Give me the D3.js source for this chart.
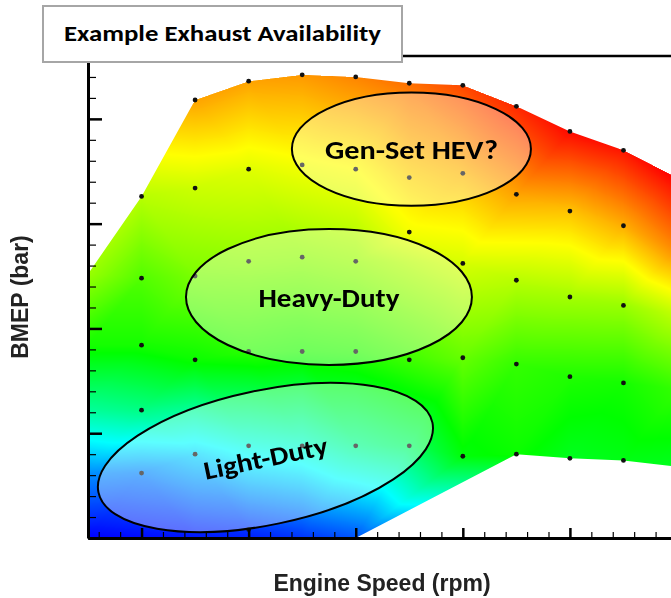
<!DOCTYPE html>
<html>
<head>
<meta charset="utf-8">
<script src="https://cdn.jsdelivr.net/npm/d3@7"></script>
<style>
  body { margin: 0; background: #fff; }
  #chart { position: relative; width: 671px; height: 598px; }
  #chart canvas, #chart svg { position: absolute; left: 0; top: 0; }
</style>
</head>
<body>
<div id="chart"></div>
<script>
// operating points, one list per engine speed (rpm)
const speeds = [500, 1000, 1500, 2000, 2500, 3000, 3500, 4000, 4500, 5000, 5500, 6000];

// BMEP (bar) of each point in the column
const bmepRows = [
  [12.6, 9.2, 6.1, 3.1, 0],
  [16.3, 12.4, 9.2, 6.1, 3.1, 0],
  [20.9, 16.7, 12.5, 8.5, 4.0, 0],
  [21.8, 17.6, 13.2, 8.9, 4.4, 0.4, 0],
  [22.1, 17.8, 13.4, 8.9, 4.4, 0],
  [22.0, 17.6, 13.2, 8.9, 4.4, 0],
  [21.7, 17.2, 14.6, 8.5, 4.4],
  [21.6, 17.4, 13.1, 8.6, 3.9],
  [20.6, 16.4, 12.3, 8.3, 4.0],
  [19.4, 15.6, 11.5, 7.7, 3.8],
  [18.5, 14.9, 11.1, 7.4, 3.7],
  [17.2, 13.8, 10.7, 7.1, 3.4]
];

// exhaust availability at each point (relative, 0 = low, 100 = high)
const exhaust = [
  [65, 52, 35, 14, 0],
  [68, 58, 52, 37, 13, 1],
  [84, 70, 62, 51, 21, 2],
  [84, 72, 64, 54, 28, 5, 3],
  [85, 74, 64, 53, 30, 5],
  [87, 75, 65, 54, 36, 8],
  [89, 79, 74, 56, 40],
  [93, 82, 71, 60, 49],
  [96, 84, 68, 55, 51],
  [99, 81, 66, 53, 47],
  [98, 83, 65, 52, 48],
  [100, 87, 69, 55, 47]
];

// outline of the mapped region
const outlineSpeed = [500, 1000, 1500, 2000, 2500, 3000, 3500, 4000, 4500, 5000, 5500, 6000,
                      6000, 5500, 5000, 4500, 3000, 500];
const outlineBmep  = [12.6, 16.3, 20.9, 21.8, 22.1, 22.0, 21.7, 21.6, 20.6, 19.4, 18.5, 17.2,
                      3.4, 3.7, 3.8, 4.0, 0, 0];

const xMajorTicks = [1000, 2000, 3000, 4000, 5000, 6000];
const yMajorTicks = [0, 5, 10, 15, 20];

// application regions: label, centre (rpm, bar), half sizes (rpm, bar), tilt
const regionLabels = ["Gen-Set HEV?", "Heavy-Duty", "Light-Duty"];
const regionSpeed  = [3520, 2750, 2157];
const regionBmep   = [18.56, 11.5, 3.84];
const regionHalfSpeed = [1116, 1335, 1593];
const regionHalfBmep  = [2.70, 3.24, 3.21];
const regionTilt   = [0, 0, -11.8];
const regionTextWidth = [173, 141, 126];

const width = 671, height = 598;

const x = d3.scaleLinear().domain([500, 6000]).range([88, 677]);
const y = d3.scaleLinear().domain([0, 23]).range([538, 56]);
const color = d3.scaleLinear()
  .domain([0, 25, 50, 75, 100])
  .range(["#0000ff", "#00ffff", "#00ff00", "#ffff00", "#ff0000"])
  .clamp(true);

const points = speeds.flatMap((s, i) =>
  bmepRows[i].map((b, j) => ({rpm: s, bmep: b, v: exhaust[i][j]})));
const outline = outlineSpeed.map((s, i) => [s, outlineBmep[i]]);

// ---- colour surface (triangulated, like the original contour plot)
const chart = d3.select("#chart");
const canvas = chart.append("canvas").attr("width", width).attr("height", height).node();
const ctx = canvas.getContext("2d");

const off = document.createElement("canvas");
off.width = width; off.height = height;
const octx = off.getContext("2d");
const img = octx.createImageData(width, height);

const lut = d3.range(1001).map(i => d3.rgb(color(i / 10)));
const pxy = points.map(d => [x(d.rpm), y(d.bmep)]);
const delaunay = d3.Delaunay.from(pxy);
const tri = delaunay.triangles;

for (let k = 0; k < tri.length; k += 3) {
  const a = tri[k], b = tri[k + 1], c = tri[k + 2];
  const [ax, ay] = pxy[a], [bx, by] = pxy[b], [cx, cy] = pxy[c];
  const va = points[a].v, vb = points[b].v, vc = points[c].v;
  const det = (by - cy) * (ax - cx) + (cx - bx) * (ay - cy);
  if (Math.abs(det) < 1e-9) continue;
  const x0 = Math.max(0, Math.floor(Math.min(ax, bx, cx)));
  const x1 = Math.min(width - 1, Math.ceil(Math.max(ax, bx, cx)));
  const y0 = Math.max(0, Math.floor(Math.min(ay, by, cy)));
  const y1 = Math.min(height - 1, Math.ceil(Math.max(ay, by, cy)));
  for (let j = y0; j <= y1; j++) {
    for (let i = x0; i <= x1; i++) {
      const px = i + 0.5, py = j + 0.5;
      const l1 = ((by - cy) * (px - cx) + (cx - bx) * (py - cy)) / det;
      const l2 = ((cy - ay) * (px - cx) + (ax - cx) * (py - cy)) / det;
      const l3 = 1 - l1 - l2;
      if (l1 < -1e-3 || l2 < -1e-3 || l3 < -1e-3) continue;
      const v = l1 * va + l2 * vb + l3 * vc;
      const col = lut[Math.max(0, Math.min(1000, Math.round(v * 10)))];
      const o = (j * width + i) * 4;
      img.data[o] = col.r; img.data[o + 1] = col.g; img.data[o + 2] = col.b; img.data[o + 3] = 255;
    }
  }
}
octx.putImageData(img, 0, 0);

ctx.save();
ctx.beginPath();
d3.line().x(d => x(d[0])).y(d => y(d[1])).context(ctx)(outline);
ctx.closePath();
ctx.clip();
ctx.drawImage(off, 0, 0);
ctx.restore();

// ---- vector layer
const svg = chart.append("svg").attr("width", width).attr("height", height);

svg.append("g")
  .selectAll("circle")
  .data(points.filter(d => d.rpm > 500 && d.rpm < 6000 && d.bmep > 0))
  .join("circle")
    .attr("cx", d => x(d.rpm))
    .attr("cy", d => y(d.bmep))
    .attr("r", 2.4)
    .attr("fill", "#111");

const pxPerRpm = x(1500) - x(500);
const pxPerBar = y(0) - y(1);

const regions = svg.append("g")
  .selectAll("g")
  .data(regionLabels)
  .join("g")
    .attr("transform", (d, i) => `translate(${x(regionSpeed[i])},${y(regionBmep[i])}) rotate(${regionTilt[i]})`);

regions.append("ellipse")
  .attr("rx", (d, i) => regionHalfSpeed[i] * pxPerRpm / 1000)
  .attr("ry", (d, i) => regionHalfBmep[i] * pxPerBar)
  .attr("fill", "#fff")
  .attr("fill-opacity", 0.36)
  .attr("stroke", "#000")
  .attr("stroke-width", 2);

regions.append("text")
  .attr("text-anchor", "middle")
  .attr("y", 9.5)
  .attr("textLength", (d, i) => regionTextWidth[i])
  .attr("lengthAdjust", "spacingAndGlyphs")
  .style("font-family", "Carlito, Calibri, Lato, sans-serif")
  .style("font-weight", 700)
  .style("font-size", "26px")
  .attr("fill", "#000")
  .text(d => d);

// axes (ticks point into the plot)
const xAxis = svg.append("g").attr("transform", `translate(0,${y(0)})`);
xAxis.append("g")
  .call(d3.axisTop(x).tickValues(d3.range(600, 6000, 200).filter(v => v % 1000)).tickSize(6).tickFormat(""))
  .call(g => g.select(".domain").remove())
  .call(g => g.selectAll(".tick line").attr("stroke-width", 1.2));
xAxis.append("g")
  .call(d3.axisTop(x).tickValues(xMajorTicks).tickSize(10).tickSizeOuter(0).tickFormat(""))
  .call(g => g.select(".domain").attr("stroke-width", 3))
  .call(g => g.selectAll(".tick line").attr("stroke-width", 2.5));

const yAxis = svg.append("g").attr("transform", `translate(${x(500)},0)`);
yAxis.append("g")
  .call(d3.axisRight(y).tickValues(d3.range(1, 23).filter(v => v % 5)).tickSize(8).tickFormat(""))
  .call(g => g.select(".domain").remove())
  .call(g => g.selectAll(".tick line").attr("stroke-width", 1.2));
yAxis.append("g")
  .call(d3.axisRight(y).tickValues(yMajorTicks).tickSize(14).tickSizeOuter(0).tickFormat(""))
  .call(g => g.select(".domain").attr("stroke-width", 3))
  .call(g => g.selectAll(".tick line").attr("stroke-width", 2.5));

svg.append("line")
  .attr("x1", x(500)).attr("x2", x(6000))
  .attr("y1", y(23)).attr("y2", y(23))
  .attr("stroke", "#000")
  .attr("stroke-width", 2.5);

// title box
svg.append("rect")
  .attr("x", 43).attr("y", 6)
  .attr("width", 359).attr("height", 56)
  .attr("fill", "#fff")
  .attr("stroke", "#a6a6a6")
  .attr("stroke-width", 2);

svg.append("text")
  .attr("x", 222.5).attr("y", 41)
  .attr("text-anchor", "middle")
  .attr("textLength", 317)
  .attr("lengthAdjust", "spacingAndGlyphs")
  .style("font-family", "Carlito, Calibri, Lato, sans-serif")
  .style("font-weight", 700)
  .style("font-size", "23px")
  .text("Example Exhaust Availability");

// axis titles
svg.append("text")
  .attr("transform", "translate(28,297) rotate(-90)")
  .attr("text-anchor", "middle")
  .style("font-family", "'Liberation Sans', Arial, sans-serif")
  .style("font-weight", 700)
  .style("font-size", "23px")
  .attr("fill", "#222")
  .text("BMEP (bar)");

svg.append("text")
  .attr("x", 382).attr("y", 591)
  .attr("text-anchor", "middle")
  .style("font-family", "'Liberation Sans', Arial, sans-serif")
  .style("font-weight", 700)
  .style("font-size", "23px")
  .attr("fill", "#222")
  .text("Engine Speed (rpm)");
</script>
</body>
</html>
